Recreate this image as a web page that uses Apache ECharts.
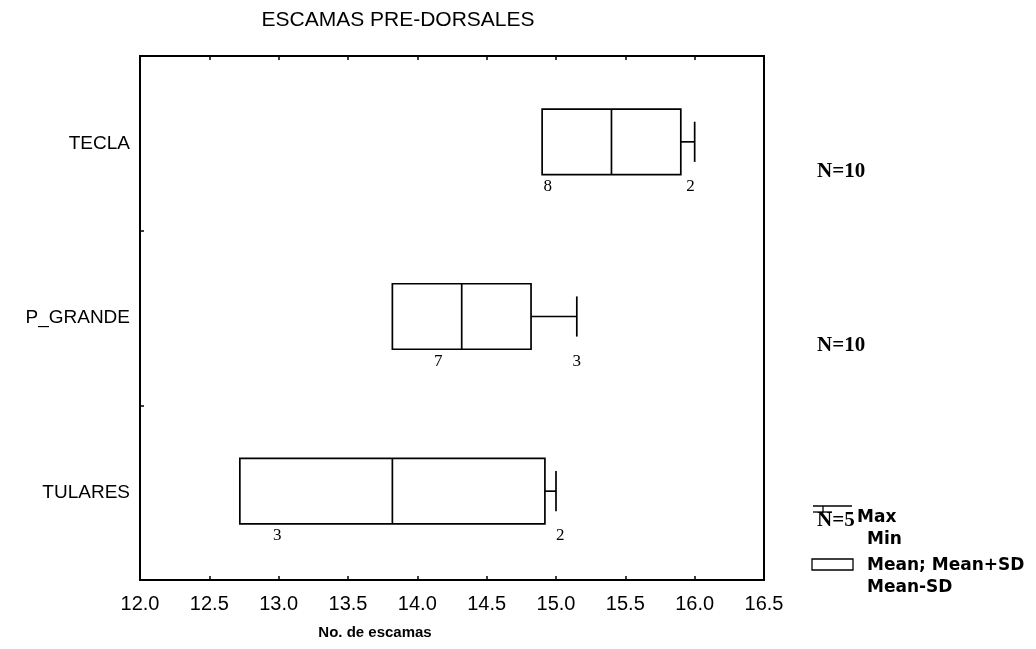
<!DOCTYPE html>
<html>
<head>
<meta charset="utf-8">
<script src="https://cdn.jsdelivr.net/npm/echarts@6/dist/echarts.min.js"></script>
<style>
  html, body { margin: 0; padding: 0; background: #fff; }
  #chart { width: 1036px; height: 649px; }
</style>
</head>
<body>
<div id="chart"></div>
<script>
// Pre-dorsal scale counts per locality
const categories = ['TECLA', 'P_GRANDE', 'TULARES'];
const meanValues = [15.4, 14.32, 13.82];
const sdValues = [0.5, 0.5, 1.1];
const maxValues = [16.0, 15.15, 15.0];
const nCounts = [10, 10, 5];
// case numbers printed under each box and where they sit on the axis
const lowCaseIds = ['8', '7', '3'];
const lowCasePos = [14.94, 14.15, 12.99];
const highCaseIds = ['2', '3', '2'];
const highCasePos = [15.97, 15.15, 15.03];
// value axis range and tick step
const axisMin = 12.0;
const axisMax = 16.5;
const axisStep = 0.5;

const SANS = '"Liberation Sans", Arial, sans-serif';
const WIDE = '"DejaVu Sans", sans-serif';
const SERIF = '"Liberation Serif", "Times New Roman", serif';

const boxData = categories.map((c, i) => [
  i,
  meanValues[i] - sdValues[i],
  meanValues[i],
  meanValues[i] + sdValues[i],
  maxValues[i],
  lowCasePos[i],
  highCasePos[i]
]);

function renderBox(params, api) {
  const i = api.value(0);
  const band = api.size([0, 1])[1];
  const boxH = band * 0.375;
  const capH = band * 0.23;
  const pL = api.coord([api.value(1), i]);
  const pM = api.coord([api.value(2), i]);
  const pH = api.coord([api.value(3), i]);
  const pX = api.coord([api.value(4), i]);
  const cy = pL[1] - 1.5;
  const top = cy - boxH / 2;
  const bot = cy + boxH / 2;
  const line = { stroke: '#000', lineWidth: 1.7, fill: null };
  const lo = api.coord([api.value(5), i]);
  const hi = api.coord([api.value(6), i]);
  const cs = params.coordSys;
  return {
    type: 'group',
    children: [
      { type: 'rect', shape: { x: pL[0], y: top, width: pH[0] - pL[0], height: boxH }, style: line },
      { type: 'line', shape: { x1: pM[0], y1: top, x2: pM[0], y2: bot }, style: line },
      { type: 'line', shape: { x1: pH[0], y1: cy, x2: pX[0], y2: cy }, style: line },
      { type: 'line', shape: { x1: pX[0], y1: cy - capH / 2, x2: pX[0], y2: cy + capH / 2 }, style: line },
      { type: 'text', style: { x: lo[0], y: bot + 12, text: lowCaseIds[i], font: '17px ' + SERIF, fill: '#000', align: 'center', verticalAlign: 'middle' } },
      { type: 'text', style: { x: hi[0], y: bot + 12, text: highCaseIds[i], font: '17px ' + SERIF, fill: '#000', align: 'center', verticalAlign: 'middle' } },
      { type: 'text', style: { x: cs.x + cs.width + 53, y: pL[1] + 28, text: 'N=' + nCounts[i], font: 'bold 21px ' + SERIF, fill: '#000', align: 'left', verticalAlign: 'middle' } }
    ]
  };
}

const chart = echarts.init(document.getElementById('chart'), null, { renderer: 'canvas' });

chart.setOption({
  backgroundColor: '#fff',
  animation: false,
  grid: { left: 140, top: 56, width: 624, height: 524, show: true, borderColor: '#000', borderWidth: 2, backgroundColor: 'transparent' },
  xAxis: [
    {
      type: 'value', min: axisMin, max: axisMax, interval: axisStep, position: 'bottom',
      axisLine: { show: true, lineStyle: { color: '#000', width: 2 } },
      axisTick: { show: true, inside: true, length: 4, lineStyle: { color: '#000', width: 1.5 } },
      axisLabel: { color: '#000', fontFamily: SANS, fontSize: 20, margin: 14, formatter: v => v.toFixed(1) },
      splitLine: { show: false }
    },
    {
      type: 'value', min: axisMin, max: axisMax, interval: axisStep, position: 'top',
      axisLine: { show: true, lineStyle: { color: '#000', width: 2 } },
      axisTick: { show: true, inside: true, length: 4, lineStyle: { color: '#000', width: 1.5 } },
      axisLabel: { show: false },
      splitLine: { show: false }
    }
  ],
  yAxis: {
    type: 'category', data: categories, inverse: true,
    axisLine: { show: true, lineStyle: { color: '#000', width: 2 } },
    axisTick: { show: true, inside: true, length: 4, lineStyle: { color: '#000', width: 1.5 } },
    axisLabel: { color: '#000', fontFamily: SANS, fontSize: 19, margin: 10 },
    splitLine: { show: false }
  },
  graphic: [
    { type: 'text', x: 398, y: 20, style: { text: 'ESCAMAS PRE-DORSALES', font: '21px ' + SANS, fill: '#000', align: 'center', verticalAlign: 'middle' } },
    { type: 'text', x: 375, y: 633, style: { text: 'No. de escamas', font: 'bold 15px ' + SANS, fill: '#000', align: 'center', verticalAlign: 'middle' } },
    // whisker key
    { type: 'line', shape: { x1: 813, y1: 506, x2: 852, y2: 506 }, style: { stroke: '#000', lineWidth: 1.3 } },
    { type: 'line', shape: { x1: 823, y1: 506, x2: 823, y2: 513 }, style: { stroke: '#000', lineWidth: 1.3 } },
    { type: 'line', shape: { x1: 813, y1: 512, x2: 832, y2: 512 }, style: { stroke: '#000', lineWidth: 1.3 } },
    { type: 'text', x: 857, y: 518, style: { text: 'Max', font: 'bold 17px ' + WIDE, fill: '#000', align: 'left', verticalAlign: 'middle' } },
    { type: 'text', x: 867, y: 540, style: { text: 'Min', font: 'bold 17px ' + WIDE, fill: '#000', align: 'left', verticalAlign: 'middle' } },
    // box key
    { type: 'rect', shape: { x: 812, y: 559, width: 41, height: 11 }, style: { stroke: '#000', lineWidth: 1.3, fill: '#fff' } },
    { type: 'text', x: 867, y: 566, style: { text: 'Mean; Mean+SD', font: 'bold 17px ' + WIDE, fill: '#000', align: 'left', verticalAlign: 'middle' } },
    { type: 'text', x: 867, y: 588, style: { text: 'Mean-SD', font: 'bold 17px ' + WIDE, fill: '#000', align: 'left', verticalAlign: 'middle' } }
  ],
  series: [{
    type: 'custom',
    renderItem: renderBox,
    coordinateSystem: 'cartesian2d',
    xAxisIndex: 0,
    yAxisIndex: 0,
    clip: false,
    encode: { x: [1, 2, 3, 4], y: 0 },
    data: boxData,
    z: 10
  }]
});
</script>
</body>
</html>
